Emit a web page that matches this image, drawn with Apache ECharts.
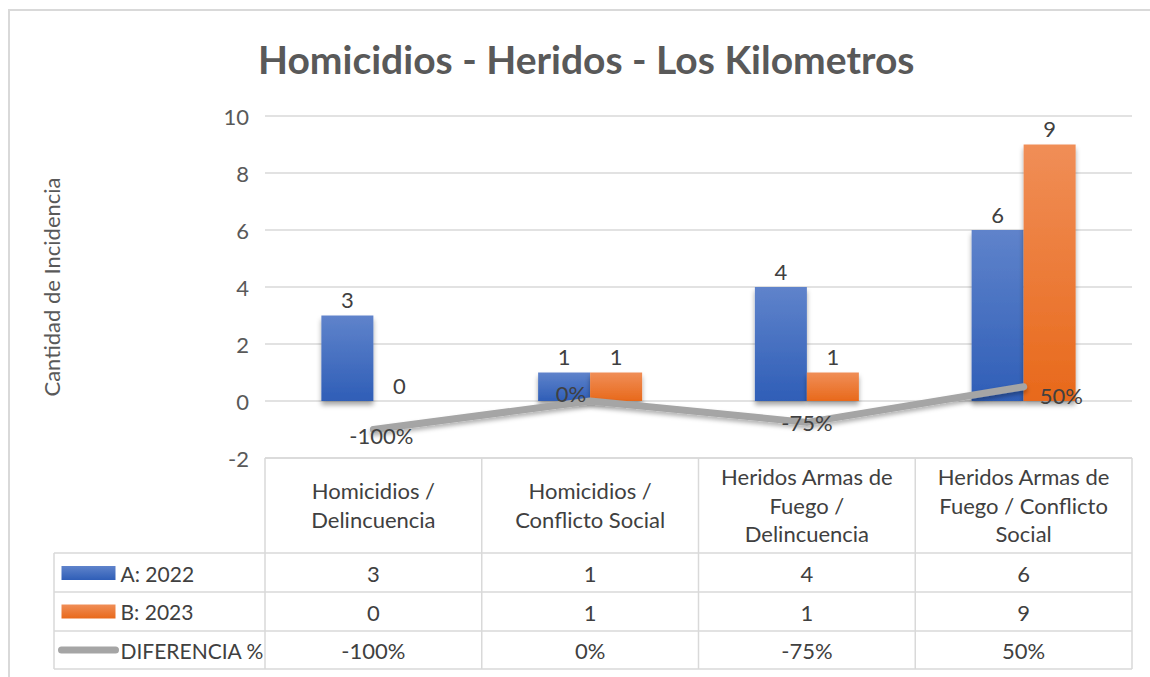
<!DOCTYPE html>
<html lang="es">
<head>
<meta charset="UTF-8">
<title>Homicidios - Heridos - Los Kilometros</title>
<style>
  html, body { margin: 0; padding: 0; background: #fff; }
  #main { width: 1150px; height: 677px; }
</style>
</head>
<body>
<div id="main"></div>
<script src="https://cdn.jsdelivr.net/npm/echarts@6/dist/echarts.min.js"></script>
<script>
// data
var categories = ['Homicidios /\nDelincuencia', 'Homicidios /\nConflicto Social',
                  'Heridos Armas de\nFuego /\nDelincuencia', 'Heridos Armas de\nFuego / Conflicto\nSocial'];
var valuesA = [3, 1, 4, 6];          // A: 2022
var valuesB = [0, 1, 1, 9];          // B: 2023
var diferencia = [-1, 0, -0.75, 0.5]; // DIFERENCIA %
var yTicks = [-2, 0, 2, 4, 6, 8, 10];

var FONT = 'Lato';
var FS = 22;
var TXT = '#404040';
var GRIDC = '#d9d9d9';

// layout
var W = 1150, H = 677;
var gLeft = 265, gRight = 1132, gTop = 116, gBottom = 458;
var rowLines = [553, 592, 631, 669];
var tableLeft = 54;

function pct(v) { return Math.round(v * 100) + '%'; }

var blueGrad = new echarts.graphic.LinearGradient(0, 0, 0, 1, [
  { offset: 0, color: '#5f83cb' }, { offset: 1, color: '#2f5eb7' }
]);
var orangeGrad = new echarts.graphic.LinearGradient(0, 0, 0, 1, [
  { offset: 0, color: '#f08e57' }, { offset: 1, color: '#e8691b' }
]);

// line label placement per point
var lineLabelPos = [
  { position: 'inside', offset: [8, 6] },
  { position: 'left', offset: [2, -8] },
  { position: 'inside', offset: [0, 0] },
  { position: 'right', offset: [10, 9] }
];

// table borders
var colW = (gRight - gLeft) / categories.length;
var tableLines = [];
function hline(y, x1, x2) {
  tableLines.push({ type: 'line', silent: true, shape: { x1: x1, y1: y, x2: x2, y2: y },
    style: { stroke: GRIDC, lineWidth: 1.5 } });
}
function vline(x, y1, y2) {
  tableLines.push({ type: 'line', silent: true, shape: { x1: x, y1: y1, x2: x, y2: y2 },
    style: { stroke: GRIDC, lineWidth: 1.5 } });
}
hline(gBottom, gLeft, gRight);
rowLines.forEach(function (y) { hline(y, tableLeft, gRight); });
for (var i = 0; i <= categories.length; i++) vline(gLeft + i * colW, gBottom, rowLines[rowLines.length - 1]);
vline(tableLeft, rowLines[0], rowLines[rowLines.length - 1]);
// outer chart frame
tableLines.push({ type: 'rect', silent: true, shape: { x: 9, y: 10, width: 1160, height: 700 },
  style: { fill: 'none', stroke: '#d9d9d9', lineWidth: 2 } });

function rowAxis(offset, values, fmt) {
  return {
    type: 'category', gridIndex: 0, position: 'bottom', offset: offset,
    data: categories,
    axisLine: { show: false }, axisTick: { show: false }, splitLine: { show: false },
    axisLabel: {
      interval: 0, margin: 0, verticalAlign: 'middle',
      fontFamily: FONT, fontSize: FS, color: TXT,
      formatter: function (v, idx) { return fmt(values[idx]); }
    }
  };
}

var chart = echarts.init(document.getElementById('main'), null, { renderer: 'svg' });
chart.setOption({
  backgroundColor: '#fff',
  animation: false,
  title: {
    text: 'Homicidios - Heridos - Los Kilometros',
    left: 253, top: 34,
    textStyle: { fontFamily: FONT, fontSize: 39, fontWeight: 'bold', color: '#595959' }
  },
  legend: {
    orient: 'vertical', left: 53, top: 556,
    itemWidth: 54, itemHeight: 14, itemGap: 14.5,
    textStyle: { fontFamily: FONT, fontSize: 21, color: TXT, lineHeight: 24 },
    data: [
      { name: 'A: 2022', icon: 'rect' },
      { name: 'B: 2023', icon: 'rect' },
      { name: 'DIFERENCIA %', itemStyle: { color: 'rgba(165,165,165,0)', borderWidth: 0 },
        lineStyle: { width: 7, color: '#a5a5a5', cap: 'round' } }
    ]
  },
  grid: { left: gLeft, right: W - gRight, top: gTop, bottom: H - gBottom },
  xAxis: [
    {
      type: 'category', data: categories,
      axisLine: { show: false }, axisTick: { show: false },
      axisLabel: {
        interval: 0, margin: 47, verticalAlign: 'middle',
        fontFamily: FONT, fontSize: FS, color: TXT, lineHeight: 28.5
      }
    },
    rowAxis(115, valuesA, String),
    rowAxis(154, valuesB, String),
    rowAxis(192, diferencia, pct)
  ],
  yAxis: {
    type: 'value', min: yTicks[0], max: yTicks[yTicks.length - 1], interval: 2,
    name: 'Cantidad de Incidencia', nameLocation: 'middle', nameGap: 203,
    nameTextStyle: { fontFamily: FONT, fontSize: FS, color: '#595959' },
    axisLine: { show: false }, axisTick: { show: false },
    axisLabel: { margin: 16, fontFamily: FONT, fontSize: FS, color: '#595959' },
    splitLine: { lineStyle: { color: GRIDC, width: 1.5 } }
  },
  series: [
    {
      name: 'A: 2022', type: 'bar', data: valuesA,
      barWidth: 52, barGap: '0%',
      itemStyle: { color: blueGrad, shadowColor: 'rgba(0,0,0,0.35)', shadowBlur: 5, shadowOffsetY: 4 },
      label: { show: true, position: 'top', distance: 5, fontFamily: FONT, fontSize: FS, color: TXT }
    },
    {
      name: 'B: 2023', type: 'bar', data: valuesB,
      barWidth: 52,
      itemStyle: { color: orangeGrad, shadowColor: 'rgba(0,0,0,0.35)', shadowBlur: 5, shadowOffsetY: 4 },
      label: { show: true, position: 'top', distance: 5, fontFamily: FONT, fontSize: FS, color: TXT }
    },
    {
      name: 'DIFERENCIA %', type: 'line', z: 5,
      data: diferencia.map(function (v, i) {
        return { value: v, label: lineLabelPos[i] };
      }),
      symbol: 'circle', symbolSize: 2, showSymbol: true,
      lineStyle: { color: '#a5a5a5', width: 7, cap: 'round', join: 'round',
        shadowColor: 'rgba(0,0,0,0.3)', shadowBlur: 4, shadowOffsetY: 3 },
      itemStyle: { color: 'rgba(165,165,165,0)' },
      label: { show: true, fontFamily: FONT, fontSize: FS, color: TXT,
        formatter: function (p) { return pct(p.value); } }
    }
  ],
  graphic: tableLines
});
</script>
</body>
</html>
